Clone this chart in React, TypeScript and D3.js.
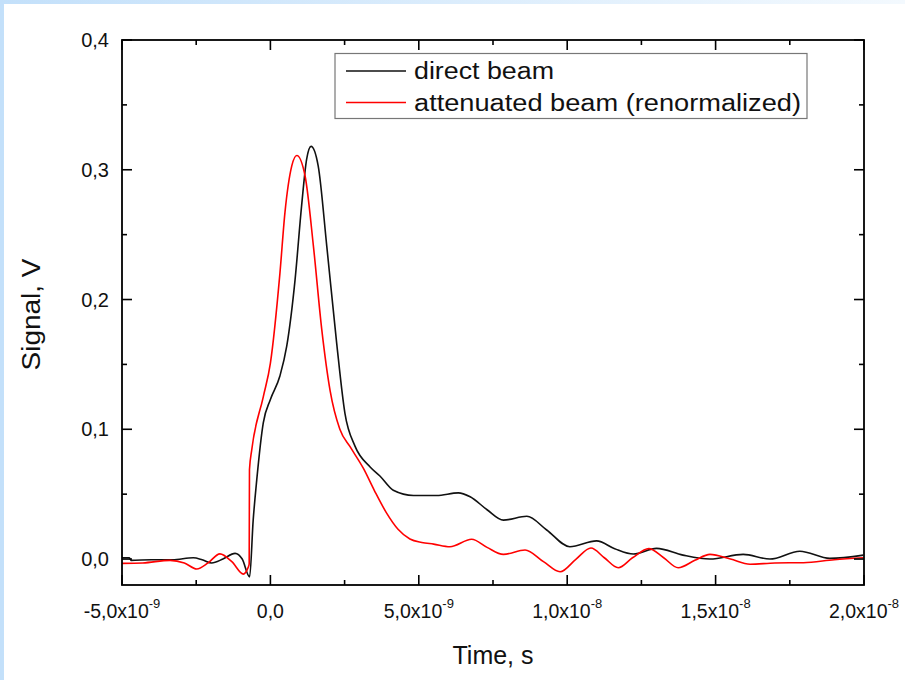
import React from "react";
import * as d3 from "d3";

// time in ns (x 1e-9 s), signal in V
const directT = [-5.0, -4.75, -4.7, -4.0, -3.3, -2.6, -2.3, -1.98, -1.6, -1.19, -0.95, -0.7, -0.58, -0.46, -0.24, 0.0, 0.32, 0.55, 0.83, 1.05, 1.22, 1.37, 1.61, 1.9, 2.23, 2.51, 2.85, 3.36, 3.69, 4.14, 4.82, 5.6, 6.33, 6.73, 7.3, 7.85, 8.64, 9.31, 10.09, 10.99, 11.6, 12.23, 13.01, 13.9, 14.81, 15.93, 16.83, 17.84, 18.85, 19.98];
const directV = [0.001, 0.001, -0.001, -0.0005, -0.0005, 0.001, -0.0005, -0.003, 0.0, 0.0044, 0.0, -0.0137, 0.03, 0.061, 0.105, 0.123, 0.141, 0.164, 0.215, 0.272, 0.308, 0.318, 0.303, 0.241, 0.167, 0.1125, 0.087, 0.071, 0.064, 0.053, 0.049, 0.049, 0.051, 0.048, 0.038, 0.03, 0.033, 0.0224, 0.0095, 0.014, 0.008, 0.0039, 0.0082, 0.003, 0.0, 0.0036, 0.0, 0.006, 0.0005, 0.003];

const attenT = [-5.0, -4.3, -3.38, -2.9, -2.48, -2.1, -1.7, -1.3, -0.91, -0.76, -0.715, -0.705, -0.63, -0.24, 0.0, 0.32, 0.49, 0.72, 0.89, 1.17, 1.45, 1.73, 2.01, 2.34, 2.7, 3.13, 3.5, 3.9, 4.3, 4.7, 5.1, 5.5, 6.05, 6.78, 7.3, 7.85, 8.58, 9.2, 9.76, 10.3, 10.8, 11.25, 11.72, 12.2, 12.75, 13.25, 13.74, 14.3, 14.81, 15.5, 16.16, 17.0, 17.96, 19.0, 19.98];
const attenV = [-0.0033, -0.003, -0.001, -0.003, -0.0077, -0.003, 0.004, -0.002, -0.0116, -0.007, -0.004, 0.069, 0.084, 0.125, 0.151, 0.22, 0.267, 0.303, 0.311, 0.295, 0.241, 0.177, 0.13, 0.1, 0.086, 0.07, 0.053, 0.036, 0.023, 0.0155, 0.0128, 0.0115, 0.0095, 0.0152, 0.009, 0.0036, 0.007, -0.002, -0.0098, 0.0, 0.0085, 0.001, -0.0067, 0.001, 0.008, 0.001, -0.0067, -0.001, 0.0036, 0.0, -0.004, -0.003, -0.0028, -0.0005, 0.001];

const xMajor = [-5, 0, 5, 10, 15, 20];
const xMinor = [-2.5, 2.5, 7.5, 12.5, 17.5];
const xTickMantissa = ["-5,0x10", "0,0", "5,0x10", "1,0x10", "1,5x10", "2,0x10"];
const xTickExp = ["-9", "", "-9", "-8", "-8", "-8"];
const yMajor = [0, 0.1, 0.2, 0.3, 0.4];
const yMinor = [0.05, 0.15, 0.25, 0.35];
const yTickLabels = ["0,0", "0,1", "0,2", "0,3", "0,4"];
const seriesNames = ["direct beam", "attenuated beam (renormalized)"];
const seriesColors = ["#111111", "#ff0000"];

const W = 905;
const H = 680;
const L = 122, R = 864, T = 40, B = 585;
const FONT = "'Liberation Sans', Arial, sans-serif";

export default function App() {
  const x = d3.scaleLinear().domain([-5, 20]).range([L, R]);
  const y = d3.scaleLinear().domain([-0.02, 0.4]).range([B, T]);
  const line = d3
    .line<[number, number]>()
    .x((d) => x(d[0]))
    .y((d) => y(d[1]))
    .curve(d3.curveMonotoneX);
  const direct = directT.map((t, i) => [t, directV[i]] as [number, number]);
  const atten = attenT.map((t, i) => [t, attenV[i]] as [number, number]);

  return (
    <svg
      width={W}
      height={H}
      style={{ position: "absolute", left: 0, top: 0 }}
      fontFamily={FONT}
    >
      <defs>
        <linearGradient id="bg" x1="0" y1="0" x2="1" y2="0">
          <stop offset="0" stopColor="#c3e0fa" />
          <stop offset="1" stopColor="#f3f9fe" />
        </linearGradient>
        <clipPath id="plot">
          <rect x={L} y={T} width={R - L} height={B - T} />
        </clipPath>
      </defs>
      <rect x={0} y={0} width={W} height={H} fill="url(#bg)" />
      <rect x={4} y={4} width={W - 4} height={H - 4} fill="#ffffff" />

      <g clipPath="url(#plot)">
        <path d={line(direct) || ""} fill="none" stroke={seriesColors[0]} strokeWidth={1.6} />
        <path d={line(atten) || ""} fill="none" stroke={seriesColors[1]} strokeWidth={1.6} />
      </g>

      {/* frame */}
      <rect x={L} y={T} width={R - L} height={B - T} fill="none" stroke="#000" strokeWidth={1.8} />

      {/* ticks */}
      {xMajor.map((v) => (
        <g key={"xm" + v}>
          <line x1={x(v)} x2={x(v)} y1={B} y2={B - 10} stroke="#000" strokeWidth={1.6} />
          <line x1={x(v)} x2={x(v)} y1={T} y2={T + 10} stroke="#000" strokeWidth={1.6} />
        </g>
      ))}
      {xMinor.map((v) => (
        <g key={"xn" + v}>
          <line x1={x(v)} x2={x(v)} y1={B} y2={B - 5} stroke="#000" strokeWidth={1.6} />
          <line x1={x(v)} x2={x(v)} y1={T} y2={T + 5} stroke="#000" strokeWidth={1.6} />
        </g>
      ))}
      {yMajor.map((v) => (
        <g key={"ym" + v}>
          <line x1={L} x2={L + 10} y1={y(v)} y2={y(v)} stroke="#000" strokeWidth={1.6} />
          <line x1={R} x2={R - 10} y1={y(v)} y2={y(v)} stroke="#000" strokeWidth={1.6} />
        </g>
      ))}
      {yMinor.map((v) => (
        <g key={"yn" + v}>
          <line x1={L} x2={L + 5} y1={y(v)} y2={y(v)} stroke="#000" strokeWidth={1.6} />
          <line x1={R} x2={R - 5} y1={y(v)} y2={y(v)} stroke="#000" strokeWidth={1.6} />
        </g>
      ))}

      {/* tick labels */}
      {yMajor.map((v, i) => (
        <text key={"yl" + v} x={109} y={y(v) + 7} textAnchor="end" fontSize={20} fill="#111">
          {yTickLabels[i]}
        </text>
      ))}
      {xMajor.map((v, i) => (
        <text key={"xl" + v} x={x(v)} y={618} textAnchor="middle" fontSize={19.5} fill="#111">
          <tspan>{xTickMantissa[i]}</tspan>
          {xTickExp[i] ? (
            <tspan dy={-10} fontSize={13}>
              {xTickExp[i]}
            </tspan>
          ) : null}
        </text>
      ))}

      {/* axis titles */}
      <text x={(L + R) / 2} y={664} textAnchor="middle" fontSize={25} fill="#111">
        Time, s
      </text>
      <text
        transform={`translate(40, ${(T + B) / 2 + 2}) rotate(-90)`}
        textAnchor="middle"
        fontSize={25}
        fill="#111"
        textLength={112}
        lengthAdjust="spacingAndGlyphs"
      >
        Signal, V
      </text>

      {/* legend */}
      <rect x={335} y={53.5} width={472} height={65} fill="#fff" stroke="#777" strokeWidth={1.2} />
      {seriesNames.map((name, i) => (
        <g key={name}>
          <line
            x1={346}
            x2={406}
            y1={71 + i * 31.5}
            y2={71 + i * 31.5}
            stroke={seriesColors[i]}
            strokeWidth={1.6}
          />
          <text
            x={414}
            y={79 + i * 31.5}
            fontSize={23.5}
            fill="#111"
            textLength={i === 0 ? 140 : 387}
            lengthAdjust="spacingAndGlyphs"
          >
            {name}
          </text>
        </g>
      ))}
    </svg>
  );
}
